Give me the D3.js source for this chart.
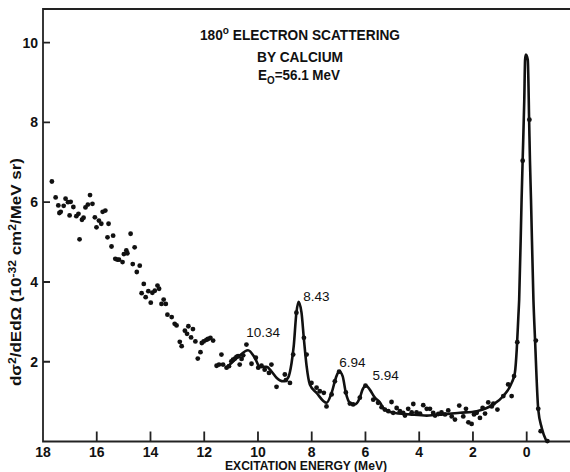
<!DOCTYPE html>
<html>
<head>
  <meta charset="utf-8">
  <title>180 electron scattering by calcium</title>
  <style>
    body { margin: 0; background: #fff; }
    text { font-family: "Liberation Sans", Arial, sans-serif; fill: #111; }
  </style>
</head>
<body>

  <script src="https://d3js.org/d3.v7.min.js" charset="utf-8"></script>
  <script type="text/javascript">

  // measured points: [excitation energy (MeV), d2sigma/dE dOmega (1e-32 cm2/MeV sr)]
  var points = [
    [17.67,6.52],[17.53,6.12],[17.43,5.92],[17.34,5.76],[17.39,5.73],[17.23,5.91],[17.16,6.09],
    [17.07,6.00],[16.97,6.01],[17.01,5.67],[16.87,5.88],[16.76,5.65],[16.68,5.71],[16.64,5.07],
    [16.55,5.56],[16.49,5.61],[16.42,5.87],[16.33,5.94],[16.25,6.18],[16.16,5.96],[16.07,5.62],
    [16.01,5.37],[15.92,5.54],[15.83,5.46],[15.78,5.76],[15.68,5.79],[15.60,5.12],[15.56,5.46],
    [15.45,4.89],[15.39,5.16],[15.31,4.58],[15.23,4.56],[15.17,4.56],[15.04,4.50],[14.99,4.70],
    [14.90,4.79],[14.86,4.72],[14.74,5.21],[14.66,4.45],[14.59,4.87],[14.51,4.25],[14.40,4.41],
    [14.25,3.95],[14.33,3.72],[14.18,3.62],[14.08,3.77],[13.99,3.48],[13.93,3.73],[13.84,3.78],
    [13.74,3.91],[13.68,3.83],[13.59,3.45],[13.43,3.45],[13.51,3.56],[13.37,3.18],[13.21,3.12],
    [13.10,2.95],[13.03,2.91],[12.91,2.50],[12.84,2.39],[12.72,2.78],[12.64,2.70],[12.59,2.89],
    [12.49,2.61],[12.42,2.82],[12.33,2.51],[12.14,2.24],[12.09,2.47],[12.02,2.51],[11.92,2.55],
    [12.24,2.08],[11.86,2.57],[11.77,2.60],[11.67,2.53],[11.54,1.90],[11.45,1.93],[11.36,2.18],
    [11.30,1.93],[11.17,1.85],[11.08,1.89],[10.99,2.01],[10.93,2.05],[10.86,2.08],[10.80,2.12],
    [10.74,2.14],[10.68,1.93],[10.61,2.07],[10.55,2.16],[10.43,2.43],[10.24,1.95],[10.08,2.10],
    [9.99,1.85],[9.87,1.90],[9.75,1.80],[9.59,1.72],[9.50,1.93],[9.31,1.37],[9.00,1.68],
    [8.96,1.54],[8.81,1.47],[8.69,2.18],[8.57,3.23],[8.29,2.60],[8.19,2.18],[8.01,1.47],
    [7.82,1.35],[7.70,1.26],[7.55,1.22],[7.45,0.88],[7.14,1.51],[7.26,1.18],[6.98,1.75],
    [6.73,1.23],[6.58,0.95],[6.46,0.93],[6.21,1.10],[6.00,1.40],[5.71,1.05],[5.53,0.97],
    [5.40,0.86],[5.28,0.80],[5.15,0.76],[5.03,0.99],[4.97,0.72],[4.84,0.84],[4.72,0.76],
    [4.60,0.72],[4.53,0.65],[4.41,0.82],[4.28,0.73],[4.22,0.94],[4.10,0.73],[3.97,0.70],
    [3.85,0.91],[3.72,0.82],[3.60,0.82],[3.48,0.72],[3.41,0.65],[3.29,0.69],[3.17,0.73],
    [3.04,0.68],[2.92,0.78],[2.79,0.63],[2.67,0.55],[2.51,0.90],[2.36,0.63],[2.26,0.82],
    [2.17,0.48],[2.05,0.44],[1.96,0.68],[1.86,0.72],[1.74,0.59],[1.64,0.84],[1.55,0.70],
    [1.43,0.98],[1.30,0.88],[1.24,0.95],[1.09,0.80],[0.87,1.14],[0.69,1.43],[0.56,1.14],
    [0.47,1.64],[0.35,2.49],[0.15,7.04],[-0.10,8.07],[-0.34,2.53],[-0.43,0.82],[-0.52,0.26],
    [-0.77,0.01]
  ];

  // hand drawn fit through the resonances and the elastic peak
  var fitCurve = [
    [11.05,1.93],[10.74,2.12],[10.37,2.29],[10.12,2.10],[9.93,1.87],[9.68,1.87],[9.50,1.76],
    [9.31,1.60],[9.06,1.51],[8.88,1.60],[8.75,1.97],[8.67,2.39],[8.57,3.23],[8.49,3.50],
    [8.38,3.23],[8.29,2.56],[8.19,1.89],[8.07,1.43],[7.82,1.22],[7.45,0.97],[7.26,1.22],
    [7.10,1.60],[6.98,1.76],[6.85,1.64],[6.73,1.22],[6.58,0.97],[6.40,0.93],[6.21,1.10],
    [6.11,1.30],[5.98,1.40],[5.84,1.30],[5.65,1.10],[5.46,0.98],[5.34,0.84],[4.97,0.72],
    [4.35,0.68],[3.72,0.65],[3.11,0.68],[2.48,0.72],[1.86,0.76],[1.24,0.93],[0.87,1.14],
    [0.56,1.47],[0.44,1.72],[0.37,2.31],[0.31,3.14],[0.28,3.56],[0.19,6.07],[0.15,7.07],
    [0.09,8.57],[0.06,9.57],[0.03,9.70],[-0.04,9.57],[-0.09,8.07],[-0.12,7.07],[-0.16,6.07],
    [-0.25,3.56],[-0.31,2.56],[-0.43,0.80],[-0.56,0.34],[-0.74,0.0]
  ];

  var peakEnergy = [10.34, 8.43, 6.94, 5.94],
      peakHeight = [2.31, 3.50, 1.76, 1.40],
      peakText   = ['10.34', '8.43', '6.94', '5.94'];

  var xTicks = [18, 16, 14, 12, 10, 8, 6, 4, 2, 0],
      yTicks = [2, 4, 6, 8, 10];

  var W = 570, H = 472,
      plotLeft = 43, plotTop = 9, plotRight = 570, plotBottom = 441.5;

  var svg = d3.select('body')
              .append('svg')
              .attr('width', W)
              .attr('height', H);

  var x = d3.scaleLinear().domain([18, 0]).range([plotLeft, 526.7]),
      y = d3.scaleLinear().domain([0, 10]).range([plotBottom, 42.7]);

  // frame (left, top, bottom; the right side is cut off) and the inward ticks as one path
  var framePath = 'M' + plotRight + ',' + plotTop + 'H' + plotLeft + 'V' + plotBottom + 'H' + plotRight;
  xTicks.forEach(function(t){
    framePath += 'M' + x(t) + ',' + plotBottom + 'V' + (plotBottom - 10);
  });
  yTicks.forEach(function(t){
    framePath += 'M' + plotLeft + ',' + y(t) + 'H' + (plotLeft + 7);
  });

  svg.append('path')
     .attr('d', framePath)
     .attr('fill', 'none')
     .attr('stroke', '#222')
     .attr('stroke-width', 1.8);

  svg.selectAll('.xlab')
     .data(xTicks)
     .enter()
     .append('text')
     .attr('class', 'xlab')
     .attr('x', x)
     .attr('y', 457)
     .attr('text-anchor', 'middle')
     .style('font-size', '14px')
     .style('font-weight', 'bold')
     .text(String);

  svg.selectAll('.ylab')
     .data(yTicks)
     .enter()
     .append('text')
     .attr('class', 'ylab')
     .attr('x', 38)
     .attr('y', function(d){ return y(d) + 5 })
     .attr('text-anchor', 'end')
     .style('font-size', '14px')
     .style('font-weight', 'bold')
     .text(String);

  // fitted curve
  var line = d3.line()
               .x(function(d){ return x(d[0]) })
               .y(function(d){ return y(d[1]) })
               .curve(d3.curveMonotoneX);

  svg.append('path')
     .datum(fitCurve)
     .attr('d', line)
     .attr('fill', 'none')
     .attr('stroke', '#111')
     .attr('stroke-width', 2.6)
     .attr('stroke-linejoin', 'round');

  svg.selectAll('circle')
     .data(points)
     .enter()
     .append('circle')
     .attr('r', 2.4)
     .attr('cx', function(d){ return x(d[0]) })
     .attr('cy', function(d){ return y(d[1]) })
     .attr('fill', '#111');

  // peak labels, shifted a little off each peak top
  var labelShift = [[-2.5, -12], [3, -1], [-1, -4.5], [5.5, -5.5]];
  svg.selectAll('.peak')
     .data(peakEnergy)
     .enter()
     .append('text')
     .attr('class', 'peak')
     .attr('x', function(d, i){ return x(d) + labelShift[i][0] })
     .attr('y', function(d, i){ return y(peakHeight[i]) + labelShift[i][1] })
     .style('font-size', '13.5px')
     .text(function(d, i){ return peakText[i] });

  // title block
  var title = svg.append('g').style('font-weight', 'bold').attr('text-anchor', 'middle');
  title.append('text').attr('x', 300).attr('y', 40).style('font-size', '15px')
       .attr('textLength', 200).attr('lengthAdjust', 'spacingAndGlyphs')
       .html('180<tspan dy="-6" font-size="11">o</tspan><tspan dy="6"> ELECTRON SCATTERING</tspan>');
  title.append('text').attr('x', 300).attr('y', 62).style('font-size', '15px')
       .attr('textLength', 86).attr('lengthAdjust', 'spacingAndGlyphs')
       .text('BY CALCIUM');
  title.append('text').attr('x', 299).attr('y', 80).style('font-size', '15px')
       .attr('textLength', 82).attr('lengthAdjust', 'spacingAndGlyphs')
       .html('E<tspan dy="4" font-size="11">O</tspan><tspan dy="-4">=56.1 MeV</tspan>');

  // axis titles
  svg.append('text')
     .attr('x', 306).attr('y', 470)
     .attr('text-anchor', 'middle')
     .attr('textLength', 162).attr('lengthAdjust', 'spacingAndGlyphs')
     .style('font-size', '12.5px')
     .style('font-weight', 'bold')
     .text('EXCITATION ENERGY (MeV)');

  svg.append('text')
     .attr('transform', 'translate(21,272) rotate(-90)')
     .attr('text-anchor', 'middle')
     .attr('textLength', 228).attr('lengthAdjust', 'spacingAndGlyphs')
     .style('font-size', '14px')
     .style('font-weight', 'bold')
     .html('d\u03C3<tspan dy="-5" font-size="10">2</tspan><tspan dy="5">/dEd\u03A9  (10</tspan>' +
           '<tspan dy="-5" font-size="10">-32</tspan><tspan dy="5"> cm</tspan>' +
           '<tspan dy="-5" font-size="10">2</tspan><tspan dy="5">/MeV sr)</tspan>');

  </script>
</body>
</html>
